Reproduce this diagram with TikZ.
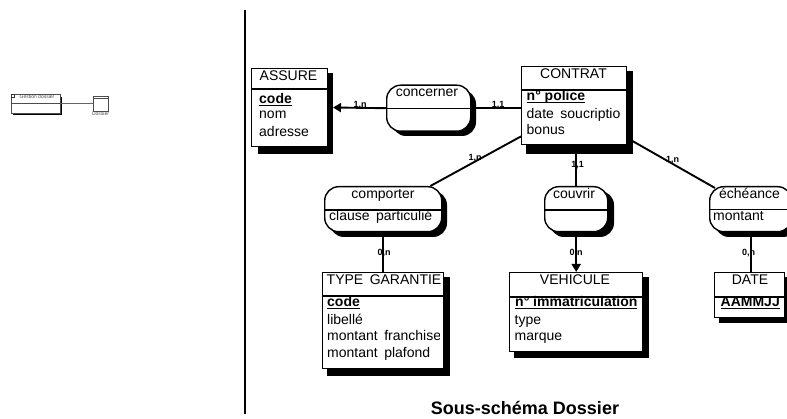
\documentclass[tikz,border=0pt]{standalone}
\usepackage{fontspec}
\setmainfont{Liberation Sans}
\usetikzlibrary{arrows.meta}
\tikzset{
  x=1pt,y=-1pt,
  ent/.style={draw=black,line width=1.4pt,fill=white,inner sep=0pt,anchor=north west},
  rel/.style={draw=black,line width=1.4pt,fill=white,inner sep=0pt,anchor=north west,rounded corners=14pt},
  relshade/.style={fill=black,rounded corners=14pt},
  txt/.style={inner sep=0pt,font=\fontsize{14}{16}\selectfont,anchor=base west},
  ttl/.style={inner sep=0pt,font=\fontsize{14}{16}\selectfont,anchor=base},
  card/.style={inner sep=0pt,font=\fontsize{9}{10}\bfseries\selectfont},
  conn/.style={line width=1.9pt,draw=black},
  sep/.style={line width=1.2pt,draw=black},
  tip/.style={-{Triangle[length=8pt,width=9pt]}},
  mini/.style={draw=black!70,line width=0.9pt,fill=white,inner sep=0pt,anchor=north west},
  minitxt/.style={inner sep=0pt,font=\fontsize{5}{6}\selectfont,text=black!70},
}
\newcommand{\under}[1]{\underline{\smash{\textbf{#1}}}}
\newcommand{\wide}[1]{{\spaceskip=6.5pt\relax #1}}
\begin{document}
\begin{tikzpicture}
\useasboundingbox (0,0) rectangle (787,419);
\draw[line width=1.6pt] (245,10) coordinate (v1) -- (245,414) coordinate (v2);
% shadows
\fill (258,73) rectangle (333,154);
\fill (526,71) rectangle (633,154);
\fill (327,277) rectangle (450,376);
\fill (514,277) rectangle (649,358);
\fill (719,277) rectangle (790,323.5);
\fill[relshade] (392,90) rectangle (476,136);
\fill[relshade] (330,191) rectangle (447,237);
\fill[relshade] (550,191) rectangle (614,237);
\fill[relshade] (715,191) rectangle (797,237);
% boxes
\node[ent,minimum width=76pt,minimum height=78pt] (assure) at (251,68) {};
\node[ent,minimum width=105pt,minimum height=78pt] (contrat) at (521,66) {};
\node[ent,minimum width=121pt,minimum height=96pt] (garantie) at (322,272) {};
\node[ent,minimum width=133pt,minimum height=79pt] (vehicule) at (509,272) {};
\node[ent,minimum width=70pt,minimum height=45pt] (date) at (714,272) {};
\node[rel,minimum width=84pt,minimum height=46pt] (concerner) at (386,84.5) {};
\node[rel,minimum width=117pt,minimum height=45pt] (comporter) at (324,186) {};
\node[rel,minimum width=63pt,minimum height=45pt] (couvrir) at (544,186) {};
\node[rel,minimum width=82pt,minimum height=45pt] (echeance) at (709,186) {};
% dividers
\draw[sep] (assure.west|-0,89) -- (assure.east|-0,89);
\draw[sep] (contrat.west|-0,90) -- (contrat.east|-0,90);
\draw[sep] (garantie.west|-0,296) -- (garantie.east|-0,296);
\draw[sep] (vehicule.west|-0,297) -- (vehicule.east|-0,297);
\draw[sep] (date.west|-0,297) -- (date.east|-0,297);
\draw[sep] (concerner.west) -- (concerner.east);
\draw[sep] (comporter.west|-0,210) -- (comporter.east|-0,210);
\draw[sep] (couvrir.west|-0,210) -- (couvrir.east|-0,210);
\draw[sep] (echeance.west|-0,209.5) -- (echeance.east|-0,209.5);
% connectors
\coordinate (ashadow) at (333,107.5);
\draw[conn,tip] (concerner.west) -- (ashadow);
\draw[conn] (contrat.west|-concerner.east) -- (concerner.east);
\draw[conn] ([yshift=9pt]contrat.south west) -- ([xshift=-12pt]comporter.north east);
\draw[conn] ([xshift=2pt]contrat.south) -- ([xshift=2pt]contrat.south|-couvrir.north);
\draw[conn] ([xshift=4pt,yshift=5pt]contrat.south east) -- ([xshift=6pt,yshift=-2pt]echeance.north west);
\draw[conn] (comporter.south) -- (comporter.south|-garantie.north);
\draw[conn,tip] (couvrir.south) -- (couvrir.south|-vehicule.north);
\draw[conn] (echeance.south) -- (echeance.south|-date.north);
% titles
\node[ttl] (t1) at (288.5,81) {ASSURE};
\node[ttl] (t2) at (573.5,79) {CONTRAT};
\node[txt] (t3) at (326.5,285) {\wide{TYPE GARANTIE}};
\node[ttl] (t4) at (575,285) {VEHICULE};
\node[ttl] (t5) at (750,285) {DATE};
\node[ttl] (r1) at (427,96.7) {concerner};
\node[ttl] (r2) at (383,199) {comporter};
\node[ttl] (r3) at (574,199) {couvrir};
\node[ttl] (r4) at (749.5,199) {échéance};
% attributes
\node[txt] at (259,103.5) {\under{code}};
\node[txt] at (259,119) {nom};
\node[txt] at (259,136.7) {adresse};
\node[txt] at (526.5,101) {\under{n° police}};
\node[txt] at (526.5,119) {\wide{date soucriptio}};
\node[txt] at (526.5,135) {bonus};
\begin{scope}
\clip (324,211) rectangle (437,228);
\node[txt] at (329,221) {\wide{clause particulié}};
\end{scope}
\node[txt] at (713,220.7) {montant};
\node[txt] at (327,306.7) {\under{code}};
\node[txt] at (327,325) {libellé};
\begin{scope}
\clip (324,328) rectangle (439.3,345);
\node[txt] at (327,341) {\wide{montant franchise}};
\end{scope}
\node[txt] at (327,358) {\wide{montant plafond}};
\node[txt] at (515,306.7) {\under{n° immatriculation}};
\node[txt] at (514.5,325) {type};
\node[txt] at (514.5,341) {marque};
\node[txt] at (720.5,306.7) {\under{AAMMJJ}};
% cardinalities
\node[card] at (360,105) {1,n};
\node[card] at (498,105) {1,1};
\node[card] at (475,158) {1,n};
\node[card] at (577.5,165) {1,1};
\node[card] at (672.5,160) {1,n};
\node[card] at (384,253) {0,n};
\node[card] at (576,253) {0,n};
\node[card] at (748.5,253) {0,n};
% caption
\node[inner sep=0pt,anchor=base,font=\fontsize{18}{20}\bfseries\selectfont] (caption) at (525,414.5) {Sous-schéma Dossier};
% mini diagram
\fill (12.5,97) rectangle (62,115.5);
\node[mini,minimum width=49pt,minimum height=19pt] (gest) at (11,94) {};
\draw[black!70,line width=0.8pt] (gest.west|-0,103) -- (gest.east|-0,103);
\draw[black!80,line width=0.6pt] (11,94) rectangle (14.5,97.5);
\node[minitxt] at (37,97) {Gestion dossier};
\node[mini,minimum width=15pt,minimum height=15pt] (dos) at (93,96) {};
\draw[black!70,line width=0.5pt] (dos.west|-0,98) -- (dos.east|-0,98);
\draw[black!60,line width=1pt] (gest.east) -- (dos.west);
\node[minitxt] at (100.5,113.5) {Dossier};
\end{tikzpicture}
\end{document}
